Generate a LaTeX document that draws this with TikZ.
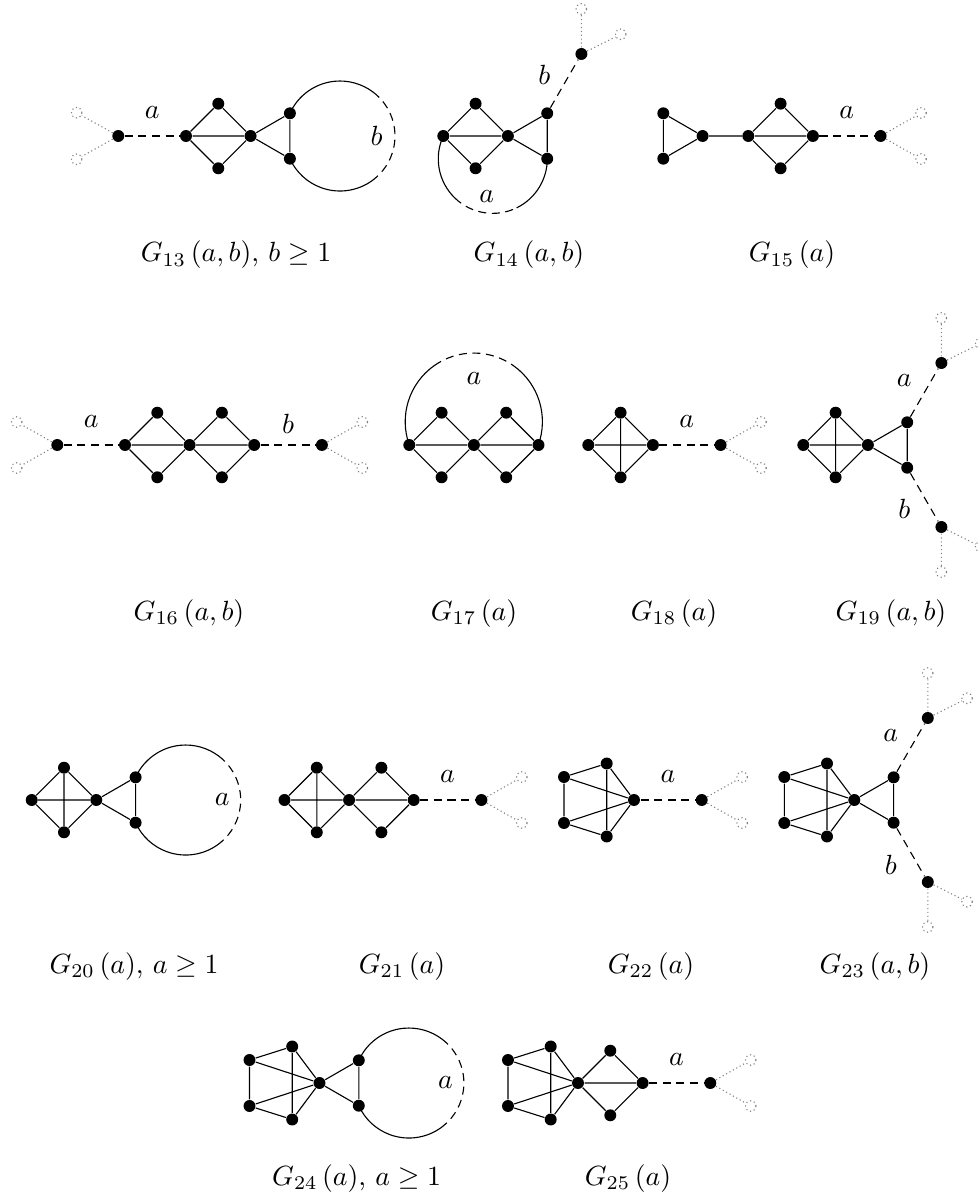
\documentclass[tikz,border=0pt]{standalone}
\usepackage{amsmath,amssymb}
\usetikzlibrary{calc}
\tikzset{
  vtx/.style={circle, fill=black, inner sep=0pt, minimum size=4.3pt},
  ghost/.style={circle, draw=gray, densely dotted, fill=white, inner sep=0pt, minimum size=3.8pt},
  pathedge/.style={dash pattern=on 2.9pt off 2pt},
  stub/.style={gray, densely dotted},
  lbl/.style={inner sep=0pt},
  gcap/.style={anchor=base, inner sep=0pt}
}
\begin{document}
\begin{tikzpicture}[x=0.36pt, y=-0.36pt]
\useasboundingbox (0,0) rectangle (977,1195);

% G13
\node[ghost] (g13d1) at (76.7,112.7) {};
\node[ghost] (g13d2) at (76.7,159.3) {};
\node[vtx] (g13p) at (118.3,136) {};
\node[vtx] (g13l) at (186,136) {};
\node[vtx] (g13t) at (218.3,103.7) {};
\node[vtx] (g13b) at (218.3,168.3) {};
\node[vtx] (g13c) at (250.6,136) {};
\node[vtx] (g13u) at (289.9,113.3) {};
\node[vtx] (g13w) at (289.9,158.7) {};
\coordinate (g13o) at (340,136);
\draw[stub] (g13p) -- (g13d1) (g13p) -- (g13d2);
\draw[pathedge] (g13p) -- node[lbl, midway, shift={(0,-23)}] (g13la) {$a$} (g13l);
\draw (g13l) -- (g13t) -- (g13c) -- (g13b) -- (g13l) -- (g13c) -- (g13u) -- (g13w) -- (g13c);
\draw (g13u) arc[start angle=-155.6, end angle=-53, radius=55] coordinate (g13q1);
\draw[pathedge] (g13q1) arc[start angle=-53, end angle=50, radius=55] coordinate (g13q2);
\draw (g13q2) arc[start angle=50, end angle=155.6, radius=55];
\node[lbl] (g13lb) at ($(g13o)+(36.7,0)$) {$b$};
\node[gcap] (g13cap) at (236,262) {$G_{13}\left(a,b\right)$, $b\geq 1$};

% G14
\node[vtx] (g14l) at (443.3,136) {};
\node[vtx] (g14t) at (475.6,103.7) {};
\node[vtx] (g14b) at (475.6,168.3) {};
\node[vtx] (g14c) at (507.9,136) {};
\node[vtx] (g14u) at (547.2,113.3) {};
\node[vtx] (g14w) at (547.2,158.7) {};
\node[vtx] (g14p) at (581.4,54) {};
\node[ghost] (g14d1) at (581.4,9) {};
\node[ghost] (g14d2) at (620.7,34.3) {};
\draw (g14l) -- (g14t) -- (g14c) -- (g14b) -- (g14l) -- (g14c) -- (g14u) -- (g14w) -- (g14c);
\draw[pathedge] (g14u) -- node[lbl, midway, shift={(-20,-9)}] (g14lb) {$b$} (g14p);
\draw[stub] (g14p) -- (g14d1) (g14p) -- (g14d2);
\draw (g14l) arc[start angle=204.8, end angle=134, radius=54.5] coordinate (g14q1);
\draw[pathedge] (g14q1) arc[start angle=134, end angle=64, radius=54.5] coordinate (g14q2);
\draw (g14q2) arc[start angle=64, end angle=0, radius=54.5];
\node[lbl] (g14la) at (486.7,196.7) {$a$};
\node[gcap] (g14cap) at (529,262) {$G_{14}\left(a,b\right)$};

% G15
\node[vtx] (g15y1) at (663.3,113.3) {};
\node[vtx] (g15y2) at (663.3,158.7) {};
\node[vtx] (g15y3) at (702.6,136) {};
\node[vtx] (g15l) at (748.3,136) {};
\node[vtx] (g15t) at (780.6,103.7) {};
\node[vtx] (g15b) at (780.6,168.3) {};
\node[vtx] (g15r) at (812.9,136) {};
\node[vtx] (g15p) at (880.6,136) {};
\node[ghost] (g15d1) at (921.1,113) {};
\node[ghost] (g15d2) at (921.1,159) {};
\draw (g15y1) -- (g15y2) -- (g15y3) -- (g15y1);
\draw (g15y3) -- (g15l) -- (g15t) -- (g15r) -- (g15b) -- (g15l) -- (g15r);
\draw[pathedge] (g15r) -- node[lbl, midway, shift={(0,-23)}] (g15la) {$a$} (g15p);
\draw[stub] (g15p) -- (g15d1) (g15p) -- (g15d2);
\node[gcap] (g15cap) at (792,262) {$G_{15}\left(a\right)$};

% G16
\node[ghost] (g16d1) at (16.8,422) {};
\node[ghost] (g16d2) at (16.8,468) {};
\node[vtx] (g16p) at (57.3,445) {};
\node[vtx] (g16l) at (125,445) {};
\node[vtx] (g16t1) at (157.3,412.7) {};
\node[vtx] (g16b1) at (157.3,477.3) {};
\node[vtx] (g16c) at (189.6,445) {};
\node[vtx] (g16t2) at (221.9,412.7) {};
\node[vtx] (g16b2) at (221.9,477.3) {};
\node[vtx] (g16r) at (254.2,445) {};
\node[vtx] (g16q) at (321.9,445) {};
\node[ghost] (g16e1) at (362.4,422) {};
\node[ghost] (g16e2) at (362.4,468) {};
\draw (g16l) -- (g16t1) -- (g16c) -- (g16b1) -- (g16l) -- (g16c) -- (g16r);
\draw (g16c) -- (g16t2) -- (g16r) -- (g16b2) -- (g16c);
\draw[pathedge] (g16p) -- node[lbl, midway, shift={(0,-23)}] (g16la) {$a$} (g16l);
\draw[pathedge] (g16r) -- node[lbl, midway, shift={(0,-21)}] (g16lb) {$b$} (g16q);
\draw[stub] (g16p) -- (g16d1) (g16p) -- (g16d2) (g16q) -- (g16e1) (g16q) -- (g16e2);
\node[gcap] (g16cap) at (189,620) {$G_{16}\left(a,b\right)$};

% G17
\node[vtx] (g17l) at (409.3,445) {};
\node[vtx] (g17t1) at (441.6,412.7) {};
\node[vtx] (g17b1) at (441.6,477.3) {};
\node[vtx] (g17c) at (473.9,445) {};
\node[vtx] (g17t2) at (506.2,412.7) {};
\node[vtx] (g17b2) at (506.2,477.3) {};
\node[vtx] (g17r) at (538.5,445) {};
\draw (g17l) -- (g17t1) -- (g17c) -- (g17b1) -- (g17l) -- (g17c) -- (g17r);
\draw (g17c) -- (g17t2) -- (g17r) -- (g17b2) -- (g17c);
\draw (g17l) arc[start angle=160.1, end angle=234.7, radius=68.6] coordinate (g17q1);
\draw[pathedge] (g17q1) arc[start angle=234.7, end angle=305.7, radius=68.6] coordinate (g17q2);
\draw (g17q2) arc[start angle=305.7, end angle=379.9, radius=68.6];
\node[lbl] (g17la) at (473.9,378.3) {$a$};
\node[gcap] (g17cap) at (474,620) {$G_{17}\left(a\right)$};

% G18
\node[vtx] (g18l) at (588.3,445) {};
\node[vtx] (g18t) at (620.6,412.7) {};
\node[vtx] (g18b) at (620.6,477.3) {};
\node[vtx] (g18r) at (652.9,445) {};
\node[vtx] (g18p) at (720.6,445) {};
\node[ghost] (g18d1) at (761.1,422) {};
\node[ghost] (g18d2) at (761.1,468) {};
\draw (g18l) -- (g18t) -- (g18r) -- (g18b) -- (g18l) -- (g18r) (g18t) -- (g18b);
\draw[pathedge] (g18r) -- node[lbl, midway, shift={(0,-23)}] (g18la) {$a$} (g18p);
\draw[stub] (g18p) -- (g18d1) (g18p) -- (g18d2);
\node[gcap] (g18cap) at (674,620) {$G_{18}\left(a\right)$};

% G19
\node[vtx] (g19l) at (803.3,445) {};
\node[vtx] (g19t) at (835.6,412.7) {};
\node[vtx] (g19b) at (835.6,477.3) {};
\node[vtx] (g19r) at (867.9,445) {};
\node[vtx] (g19u) at (907.2,422.3) {};
\node[vtx] (g19w) at (907.2,467.7) {};
\node[vtx] (g19p) at (941.4,363) {};
\node[vtx] (g19q) at (941.4,527) {};
\node[ghost] (g19d1) at (941.4,318) {};
\node[ghost] (g19d2) at (980.7,343.3) {};
\node[ghost] (g19e1) at (941.4,572) {};
\node[ghost] (g19e2) at (980.7,546.7) {};
\draw (g19l) -- (g19t) -- (g19r) -- (g19b) -- (g19l) -- (g19r) (g19t) -- (g19b);
\draw (g19r) -- (g19u) -- (g19w) -- (g19r);
\draw[pathedge] (g19u) -- node[lbl, midway, shift={(-20,-12)}] (g19la) {$a$} (g19p);
\draw[pathedge] (g19w) -- node[lbl, midway, shift={(-20,12)}] (g19lb) {$b$} (g19q);
\draw[stub] (g19p) -- (g19d1) (g19p) -- (g19d2) (g19q) -- (g19e1) (g19q) -- (g19e2);
\node[gcap] (g19cap) at (891,620) {$G_{19}\left(a,b\right)$};

% G20
\node[vtx] (g20l) at (31.7,800) {};
\node[vtx] (g20t) at (64,767.7) {};
\node[vtx] (g20b) at (64,832.3) {};
\node[vtx] (g20r) at (96.3,800) {};
\node[vtx] (g20u) at (135.6,777.3) {};
\node[vtx] (g20w) at (135.6,822.7) {};
\coordinate (g20o) at (185.6,800);
\draw (g20l) -- (g20t) -- (g20r) -- (g20b) -- (g20l) -- (g20r) (g20t) -- (g20b);
\draw (g20r) -- (g20u) -- (g20w) -- (g20r);
\draw (g20u) arc[start angle=-155.6, end angle=-53, radius=55] coordinate (g20q1);
\draw[pathedge] (g20q1) arc[start angle=-53, end angle=50, radius=55] coordinate (g20q2);
\draw (g20q2) arc[start angle=50, end angle=155.6, radius=55];
\node[lbl] (g20la) at ($(g20o)+(36.7,0)$) {$a$};
\node[gcap] (g20cap) at (134,973) {$G_{20}\left(a\right)$, $a\geq 1$};

% G21
\node[vtx] (g21l) at (284.5,800) {};
\node[vtx] (g21t1) at (316.8,767.7) {};
\node[vtx] (g21b1) at (316.8,832.3) {};
\node[vtx] (g21c) at (349.1,800) {};
\node[vtx] (g21t2) at (381.4,767.7) {};
\node[vtx] (g21b2) at (381.4,832.3) {};
\node[vtx] (g21r) at (413.7,800) {};
\node[vtx] (g21p) at (481.4,800) {};
\node[ghost] (g21d1) at (521.9,777) {};
\node[ghost] (g21d2) at (521.9,823) {};
\draw (g21l) -- (g21t1) -- (g21c) -- (g21b1) -- (g21l) -- (g21c) -- (g21r) (g21t1) -- (g21b1);
\draw (g21c) -- (g21t2) -- (g21r) -- (g21b2) -- (g21c);
\draw[pathedge] (g21r) -- node[lbl, midway, shift={(0,-23)}] (g21la) {$a$} (g21p);
\draw[stub] (g21p) -- (g21d1) (g21p) -- (g21d2);
\node[gcap] (g21cap) at (402,973) {$G_{21}\left(a\right)$};

% G22
\node[vtx] (g22c) at (634,800) {};
\node[vtx] (g22ul) at (564,777) {};
\node[vtx] (g22ll) at (564,823) {};
\node[vtx] (g22t) at (606.7,763.5) {};
\node[vtx] (g22b) at (606.7,836.5) {};
\node[vtx] (g22p) at (701.7,800) {};
\node[ghost] (g22d1) at (742.2,777) {};
\node[ghost] (g22d2) at (742.2,823) {};
\draw (g22ul) -- (g22t) -- (g22b) -- (g22ll) -- (g22ul);
\draw (g22ul) -- (g22c) (g22ll) -- (g22c) (g22t) -- (g22c) (g22b) -- (g22c);
\draw[pathedge] (g22c) -- node[lbl, midway, shift={(0,-23)}] (g22la) {$a$} (g22p);
\draw[stub] (g22p) -- (g22d1) (g22p) -- (g22d2);
\node[gcap] (g22cap) at (651,973) {$G_{22}\left(a\right)$};

% G23
\node[vtx] (g23c) at (854.3,800) {};
\node[vtx] (g23ul) at (784.3,777) {};
\node[vtx] (g23ll) at (784.3,823) {};
\node[vtx] (g23t) at (827,763.5) {};
\node[vtx] (g23b) at (827,836.5) {};
\node[vtx] (g23u) at (893.6,777.3) {};
\node[vtx] (g23w) at (893.6,822.7) {};
\node[vtx] (g23p) at (927.8,718) {};
\node[vtx] (g23q) at (927.8,882) {};
\node[ghost] (g23d1) at (927.8,673) {};
\node[ghost] (g23d2) at (967.1,698.3) {};
\node[ghost] (g23e1) at (927.8,927) {};
\node[ghost] (g23e2) at (967.1,901.7) {};
\draw (g23ul) -- (g23t) -- (g23b) -- (g23ll) -- (g23ul);
\draw (g23ul) -- (g23c) (g23ll) -- (g23c) (g23t) -- (g23c) (g23b) -- (g23c);
\draw (g23c) -- (g23u) -- (g23w) -- (g23c);
\draw[pathedge] (g23u) -- node[lbl, midway, shift={(-20,-12)}] (g23la) {$a$} (g23p);
\draw[pathedge] (g23w) -- node[lbl, midway, shift={(-20,12)}] (g23lb) {$b$} (g23q);
\draw[stub] (g23p) -- (g23d1) (g23p) -- (g23d2) (g23q) -- (g23e1) (g23q) -- (g23e2);
\node[gcap] (g23cap) at (875,973) {$G_{23}\left(a,b\right)$};

% G24
\node[vtx] (g24c) at (319.5,1083) {};
\node[vtx] (g24ul) at (249.5,1060) {};
\node[vtx] (g24ll) at (249.5,1106) {};
\node[vtx] (g24t) at (292.2,1046.5) {};
\node[vtx] (g24b) at (292.2,1119.5) {};
\node[vtx] (g24u) at (358.8,1060.3) {};
\node[vtx] (g24w) at (358.8,1105.7) {};
\coordinate (g24o) at (408.8,1083);
\draw (g24ul) -- (g24t) -- (g24b) -- (g24ll) -- (g24ul);
\draw (g24ul) -- (g24c) (g24ll) -- (g24c) (g24t) -- (g24c) (g24b) -- (g24c);
\draw (g24c) -- (g24u) -- (g24w) -- (g24c);
\draw (g24u) arc[start angle=-155.6, end angle=-53, radius=55] coordinate (g24q1);
\draw[pathedge] (g24q1) arc[start angle=-53, end angle=50, radius=55] coordinate (g24q2);
\draw (g24q2) arc[start angle=50, end angle=155.6, radius=55];
\node[lbl] (g24la) at ($(g24o)+(36.7,0)$) {$a$};
\node[gcap] (g24cap) at (356.6,1185) {$G_{24}\left(a\right)$, $a\geq 1$};

% G25
\node[vtx] (g25c) at (578,1083) {};
\node[vtx] (g25ul) at (508,1060) {};
\node[vtx] (g25ll) at (508,1106) {};
\node[vtx] (g25t) at (550.7,1046.5) {};
\node[vtx] (g25b) at (550.7,1119.5) {};
\node[vtx] (g25dt) at (610.3,1050.7) {};
\node[vtx] (g25db) at (610.3,1115.3) {};
\node[vtx] (g25r) at (642.6,1083) {};
\node[vtx] (g25p) at (710.3,1083) {};
\node[ghost] (g25d1) at (750.8,1060) {};
\node[ghost] (g25d2) at (750.8,1106) {};
\draw (g25ul) -- (g25t) -- (g25b) -- (g25ll) -- (g25ul);
\draw (g25ul) -- (g25c) (g25ll) -- (g25c) (g25t) -- (g25c) (g25b) -- (g25c);
\draw (g25c) -- (g25dt) -- (g25r) -- (g25db) -- (g25c) -- (g25r);
\draw[pathedge] (g25r) -- node[lbl, midway, shift={(0,-23)}] (g25la) {$a$} (g25p);
\draw[stub] (g25p) -- (g25d1) (g25p) -- (g25d2);
\node[gcap] (g25cap) at (628,1185) {$G_{25}\left(a\right)$};
\end{tikzpicture}
\end{document}
